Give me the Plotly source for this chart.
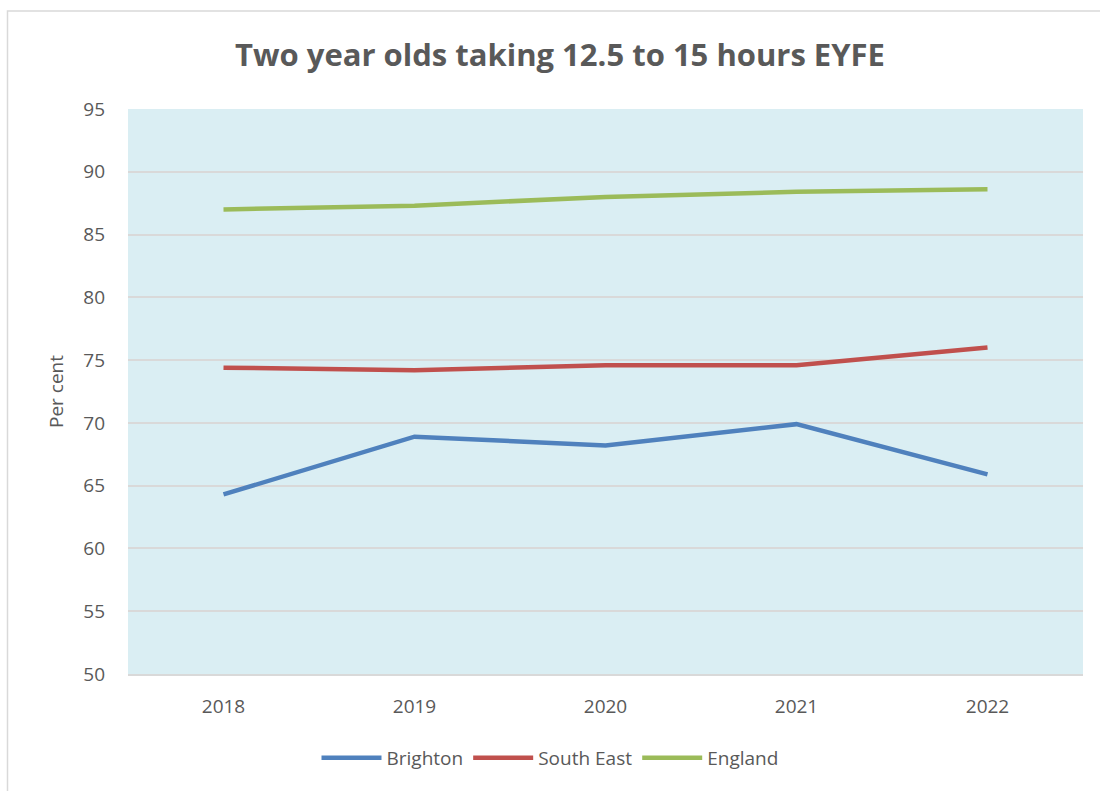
import plotly.graph_objects as go

years = ["2018", "2019", "2020", "2021", "2022"]
brighton = [64.3, 68.9, 68.2, 69.9, 65.9]
south_east = [74.4, 74.2, 74.6, 74.6, 76.0]
england = [87.0, 87.3, 88.0, 88.4, 88.6]

series = [
    ("Brighton", brighton, "#4F81BD"),
    ("South East", south_east, "#C0504D"),
    ("England", england, "#9BBB59"),
]

fig = go.Figure()
for name, vals, col in series:
    fig.add_trace(go.Scatter(x=years, y=vals, name=name, mode="lines",
                             line=dict(color=col, width=4.5)))

W, H = 1100, 791
L, R, T, B = 128, 17, 109, 117
pw, ph = W - L - R, H - T - B

def px(x):
    return (x - L) / pw

def py(y):
    return (H - B - y) / ph

fig.update_layout(
    width=W, height=H,
    margin=dict(l=L, r=R, t=T, b=B, autoexpand=False),
    paper_bgcolor="white",
    plot_bgcolor="#DAEEF3",
    font=dict(family="Open Sans", color="#595959", size=19),
    title=dict(text="<b>Two year olds taking 12.5 to 15 hours EYFE</b>",
               xref="container", x=560 / W, xanchor="center",
               y=1 - 55 / H, yanchor="middle",
               font=dict(size=31, color="#595959", family="Open Sans")),
    xaxis=dict(type="category", range=[-0.5, 4.5], showgrid=False,
               showline=True, linecolor="#D9D9D9", linewidth=2,
               ticks="", tickfont=dict(size=19), ticklabelstandoff=14,
               fixedrange=True),
    yaxis=dict(range=[50, 95], dtick=5, showgrid=True, gridcolor="#D9D9D9",
               gridwidth=2, zeroline=False, showline=False,
               tickfont=dict(size=19), ticklabelstandoff=22,
               title=dict(text="Per cent", font=dict(size=19), standoff=14)),
    legend=dict(orientation="h", x=px(550), xanchor="center",
                y=py(758), yanchor="middle", font=dict(size=19),
                itemwidth=60, tracegroupgap=0),
    shapes=[dict(type="rect", xref="paper", yref="paper",
                 x0=px(7.5), x1=px(1102), y0=py(793), y1=py(11),
                 line=dict(color="#D9D9D9", width=1.5), layer="below")],
)

fig.write_html("out.html", config={"displayModeBar": False},
               post_script="document.body.style.margin='0';")
